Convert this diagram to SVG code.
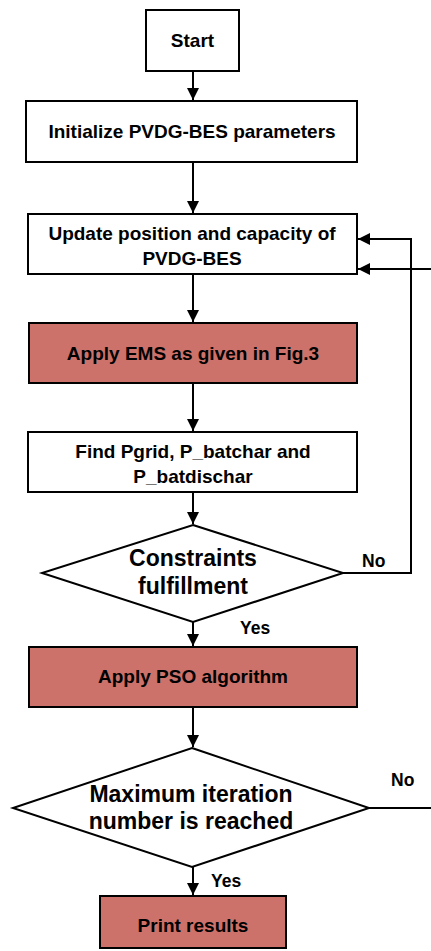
<svg xmlns="http://www.w3.org/2000/svg" width="431" height="951" viewBox="0 0 431 951">
<defs>
<marker id="ah" viewBox="0 0 10 10" refX="10" refY="5" markerWidth="12" markerHeight="12" markerUnits="userSpaceOnUse" orient="auto">
<path d="M0,0 L10,5 L0,10 z" fill="#000"/>
</marker>
<style>
.box{fill:#fff;stroke:#000;stroke-width:2}
.hot{fill:#CD726A;stroke:#000;stroke-width:2}
.t{font-family:"Liberation Sans",Arial,sans-serif;font-weight:bold;font-size:19px;fill:#000;text-anchor:middle}
.d{font-family:"Liberation Sans",Arial,sans-serif;font-weight:bold;font-size:23px;fill:#000;text-anchor:middle}
.l{font-family:"Liberation Sans",Arial,sans-serif;font-weight:bold;font-size:17.5px;fill:#000}
.c{fill:none;stroke:#000;stroke-width:2}
</style>
</defs>
<rect width="431" height="951" fill="#fff"/>
<g id="connectors">
<path class="c" d="M193,71 V100" marker-end="url(#ah)"/>
<path class="c" d="M193,162 V213" marker-end="url(#ah)"/>
<path class="c" d="M193,274 V322" marker-end="url(#ah)"/>
<path class="c" d="M193,383 V431" marker-end="url(#ah)"/>
<path class="c" d="M193,492 V524" marker-end="url(#ah)"/>
<path class="c" d="M193,622 V646" marker-end="url(#ah)"/>
<path class="c" d="M193,707 V747" marker-end="url(#ah)"/>
<path class="c" d="M193,867 V895" marker-end="url(#ah)"/>
<path class="c" d="M343,573 H411 V239 H358" marker-end="url(#ah)"/>
<path class="c" d="M369,808 H432"/>
<path class="c" d="M432,269 H358" marker-end="url(#ah)"/>
<text class="l" x="362" y="567">No</text>
<text class="l" x="240" y="634">Yes</text>
<text class="l" x="391" y="786">No</text>
<text class="l" x="211" y="887">Yes</text>
</g>
<g id="start">
<rect class="box" x="146" y="10" width="93" height="61"/>
<text class="t" x="192.5" y="47">Start</text>
</g>
<g id="init">
<rect class="box" x="26" y="101" width="331" height="61"/>
<text class="t" x="192" y="138">Initialize PVDG-BES parameters</text>
</g>
<g id="update">
<rect class="box" x="28" y="214" width="329" height="60"/>
<text class="t" x="192" y="240">Update position and capacity of</text>
<text class="t" x="192" y="265">PVDG-BES</text>
</g>
<g id="ems">
<rect class="hot" x="29" y="323" width="328" height="60"/>
<text class="t" x="193" y="360">Apply EMS as given in Fig.3</text>
</g>
<g id="find">
<rect class="box" x="28" y="432" width="329" height="60"/>
<text class="t" x="193" y="458">Find Pgrid, P_batchar and</text>
<text class="t" x="193" y="483">P_batdischar</text>
</g>
<g id="constraints">
<polygon class="box" points="193,525 343,573 193,622 42,573"/>
<text class="d" x="193" y="566">Constraints</text>
<text class="d" x="193" y="594">fulfillment</text>
</g>
<g id="pso">
<rect class="hot" x="29" y="647" width="328" height="60"/>
<text class="t" x="193" y="683">Apply PSO algorithm</text>
</g>
<g id="maxiter">
<polygon class="box" points="192,748 369,808 192,867 13,808"/>
<text class="d" x="191" y="802">Maximum iteration</text>
<text class="d" x="191" y="829">number is reached</text>
</g>
<g id="print">
<rect class="hot" x="100" y="896" width="186" height="52"/>
<text class="t" x="193" y="932">Print results</text>
</g>
</svg>
